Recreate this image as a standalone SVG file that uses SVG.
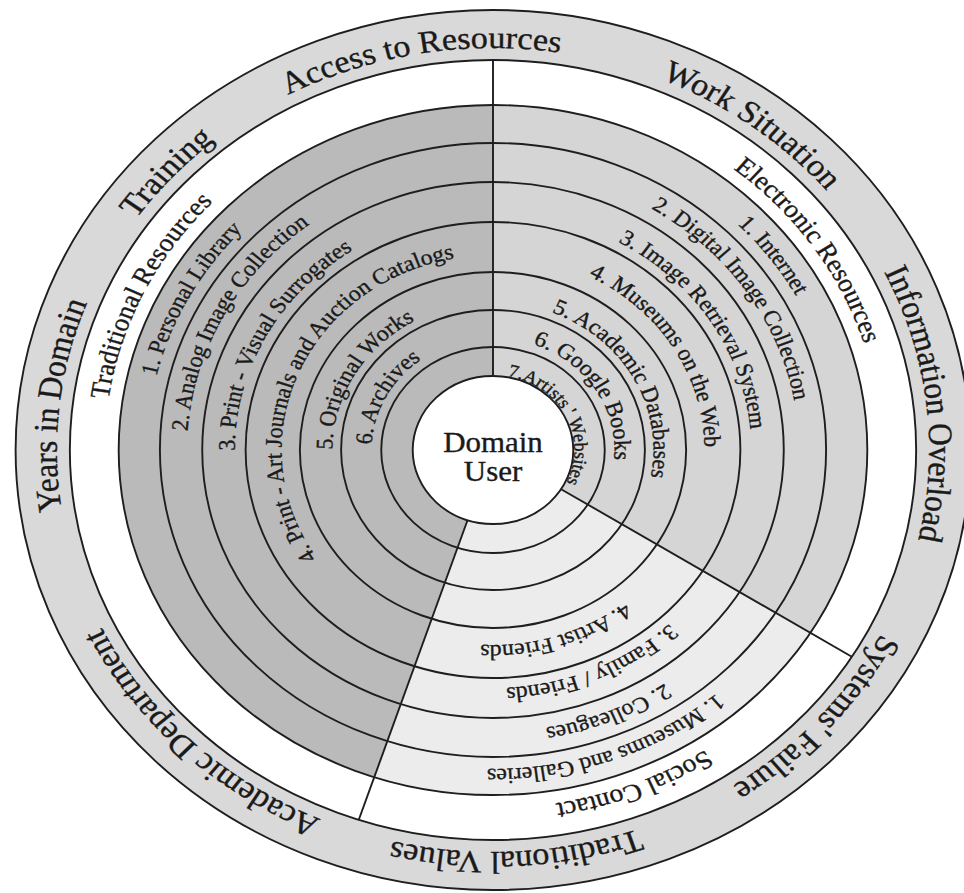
<svg xmlns="http://www.w3.org/2000/svg" width="964" height="893" viewBox="0 0 964 893">
<style>
  .ln{fill:none;stroke:#1e1e1e;stroke-width:1.9;vector-effect:non-scaling-stroke}
  .edge{stroke:#1e1e1e;stroke-width:1.9;vector-effect:non-scaling-stroke}
  text{font-family:"Liberation Serif","Times New Roman",serif;fill:#1a1a1a;stroke:#1a1a1a;stroke-width:0.35;text-anchor:middle}
  .t0{font-size:31.5px}
  .t1{font-size:25.5px}
  .t2{font-size:22px}
  .t3{font-size:18px}
  .core{font-size:28.5px}
</style>
<defs>
  <!-- clockwise circles starting at the bottom; 50% lands at the top -->
  <path id="p402" d="M0,402 A402,402 0 1,1 0,-402 A402,402 0 1,1 0,402"/>
  <path id="p358" d="M0,358 A358,358 0 1,1 0,-358 A358,358 0 1,1 0,358"/>
  <path id="p319" d="M0,319 A319,319 0 1,1 0,-319 A319,319 0 1,1 0,319"/>
  <path id="p282" d="M0,282 A282,282 0 1,1 0,-282 A282,282 0 1,1 0,282"/>
  <path id="p238" d="M0,238 A238,238 0 1,1 0,-238 A238,238 0 1,1 0,238"/>
  <path id="p195" d="M0,195 A195,195 0 1,1 0,-195 A195,195 0 1,1 0,195"/>
  <path id="p148" d="M0,148 A148,148 0 1,1 0,-148 A148,148 0 1,1 0,148"/>
  <path id="p112" d="M0,112 A112,112 0 1,1 0,-112 A112,112 0 1,1 0,112"/>
  <path id="p75" d="M0,75 A75,75 0 1,1 0,-75 A75,75 0 1,1 0,75"/>
</defs>
<rect width="964" height="893" fill="#ffffff"/>
<g transform="translate(493,450) scale(1.085,1)">

  <!-- outer band of influences -->
  <g id="outer-band">
    <circle r="440" fill="#d9d9d9" class="edge"/>
    <circle r="390" fill="#ffffff" class="edge"/>
    <text class="t0" transform="rotate(350.4)"><textPath href="#p402" startOffset="50%">Access to Resources</textPath></text>
    <text class="t0" transform="rotate(36.3)"><textPath href="#p402" startOffset="50%">Work Situation</textPath></text>
    <text class="t0" transform="rotate(83.3)"><textPath href="#p402" startOffset="50%">Information Overload</textPath></text>
    <text class="t0" transform="rotate(132)"><textPath href="#p402" startOffset="50%">Systems' Failure</textPath></text>
    <text class="t0" transform="rotate(177)"><textPath href="#p402" startOffset="50%">Traditional Values</textPath></text>
    <text class="t0" transform="rotate(223.5)"><textPath href="#p402" startOffset="50%">Academic Department</textPath></text>
    <text class="t0" transform="rotate(276.4)"><textPath href="#p402" startOffset="50%">Years in Domain</textPath></text>
    <text class="t0" transform="rotate(312.7)"><textPath href="#p402" startOffset="50%">Training</textPath></text>
  </g>

  <!-- sector fills -->
  <g id="sector-electronic">
    <path d="M0,0 L0,-345 A345,345 0 0,1 292.6,182.8 Z" fill="#d5d5d5"/>
  </g>
  <g id="sector-social">
    <path d="M0,0 L292.6,182.8 A345,345 0 0,1 -109.5,327.2 Z" fill="#ececec"/>
  </g>
  <g id="sector-traditional">
    <path d="M0,0 L-109.5,327.2 A345,345 0 0,1 0,-345 Z" fill="#bababa"/>
  </g>

  <!-- ring boundaries -->
  <g id="rings">
    <circle r="345" class="ln"/>
    <circle r="307" class="ln"/>
    <circle r="268" class="ln"/>
    <circle r="228" class="ln"/>
    <circle r="178" class="ln"/>
    <circle r="140" class="ln"/>
    <circle r="103" class="ln"/>
  </g>

  <!-- sector dividers -->
  <g id="dividers">
    <line x1="0" y1="-74" x2="0" y2="-390" class="edge"/>
    <line x1="62.8" y1="39.2" x2="330.7" y2="206.7" class="edge"/>
    <line x1="-23.5" y1="70.2" x2="-123.7" y2="369.8" class="edge"/>
  </g>

  <!-- core -->
  <g id="domain-user">
    <circle r="74" fill="#ffffff" class="edge"/>
    <text class="core" x="0" y="2">Domain</text>
    <text class="core" x="0" y="31">User</text>
  </g>

  <g id="traditional-labels">
    <text class="t1" transform="rotate(296)"><textPath href="#p358" startOffset="50%">Traditional Resources</textPath></text>
    <text class="t2" transform="rotate(298.5)"><textPath href="#p319" startOffset="50%">1. Personal Library</textPath></text>
    <text class="t2" transform="rotate(298.5)"><textPath href="#p282" startOffset="50%">2. Analog Image Collection</textPath></text>
    <text class="t2" transform="rotate(298.5)"><textPath href="#p238" startOffset="50%">3. Print - Visual Surrogates</textPath></text>
    <text class="t2" transform="rotate(293)"><textPath href="#p195" startOffset="50%">4. Print - Art Journals and Auction Catalogs</textPath></text>
    <text class="t2" transform="rotate(300.5)"><textPath href="#p148" startOffset="50%">5. Original Works</textPath></text>
    <text class="t2" transform="rotate(298.3)"><textPath href="#p112" startOffset="50%">6. Archives</textPath></text>
  </g>

  <g id="electronic-labels">
    <text class="t1" transform="rotate(55.5)"><textPath href="#p358" startOffset="50%">Electronic Resources</textPath></text>
    <text class="t2" transform="rotate(53)"><textPath href="#p319" startOffset="50%">1. Internet</textPath></text>
    <text class="t2" transform="rotate(55.5)"><textPath href="#p282" startOffset="50%">2. Digital Image Collection</textPath></text>
    <text class="t2" transform="rotate(57)"><textPath href="#p238" startOffset="50%">3. Image Retrieval System</textPath></text>
    <text class="t2" transform="rotate(58)"><textPath href="#p195" startOffset="50%">4. Museums on the Web</textPath></text>
    <text class="t2" transform="rotate(61)"><textPath href="#p148" startOffset="50%">5. Academic Databases</textPath></text>
    <text class="t2" transform="rotate(57)"><textPath href="#p112" startOffset="50%">6. Google Books</textPath></text>
    <text class="t3" transform="rotate(63)"><textPath href="#p75" startOffset="50%">7.Artists ' Websites</textPath></text>
  </g>

  <g id="social-labels">
    <text class="t1" transform="rotate(158.8)"><textPath href="#p358" startOffset="50%">Social Contact</textPath></text>
    <text class="t2" transform="rotate(160.4)"><textPath href="#p319" startOffset="50%">1. Museums and Galleries</textPath></text>
    <text class="t2" transform="rotate(158)"><textPath href="#p282" startOffset="50%">2. Colleagues</textPath></text>
    <text class="t2" transform="rotate(157)"><textPath href="#p238" startOffset="50%">3. Family / Friends</textPath></text>
    <text class="t2" transform="rotate(162.5)"><textPath href="#p195" startOffset="50%">4. Artist Friends</textPath></text>
  </g>
</g>
</svg>
